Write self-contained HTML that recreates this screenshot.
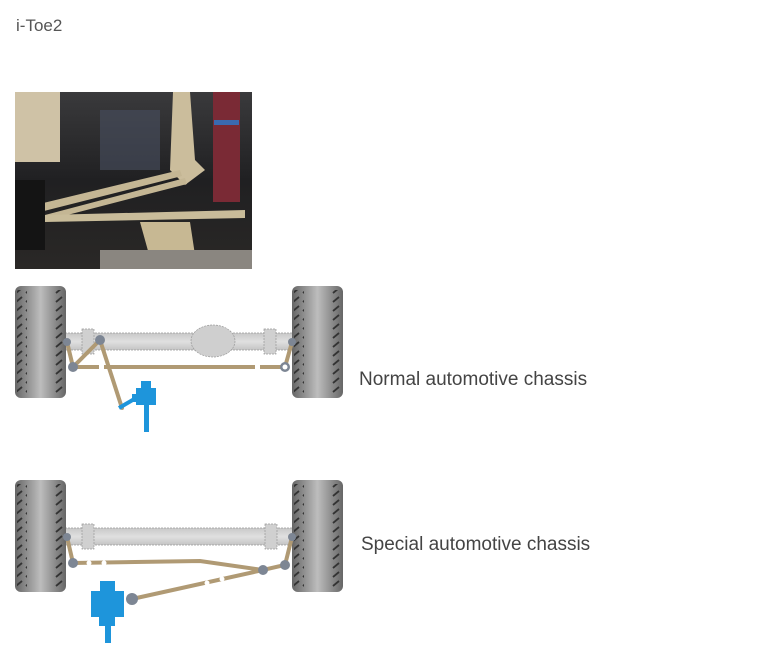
<!DOCTYPE html>
<html><head><meta charset="utf-8"><style>
html,body{margin:0;padding:0;background:#fff;width:768px;height:645px;overflow:hidden}
body{position:relative;font-family:"Liberation Sans",sans-serif}
.t{position:absolute;color:#444;white-space:nowrap}
</style></head><body>
<div class="t" style="left:16px;top:16px;font-size:17px;color:#555">i-Toe2</div>
<div class="t" style="left:359px;top:369px;font-size:19px">Normal automotive chassis</div>
<div class="t" style="left:361px;top:534px;font-size:19px">Special automotive chassis</div>
<svg width="768" height="645" style="position:absolute;left:0;top:0">
<defs>
<linearGradient id="wh" x1="0" x2="1"><stop offset="0" stop-color="#666"/><stop offset="0.5" stop-color="#bdbdbd"/><stop offset="1" stop-color="#666"/></linearGradient>
<linearGradient id="ax" x1="0" y1="0" x2="0" y2="1"><stop offset="0" stop-color="#c8c8c8"/><stop offset="0.5" stop-color="#e0e0e0"/><stop offset="1" stop-color="#c4c4c4"/></linearGradient>
<linearGradient id="ph" x1="0" y1="0" x2="0" y2="1"><stop offset="0" stop-color="#3a3a3c"/><stop offset="0.5" stop-color="#202022"/><stop offset="1" stop-color="#2a2826"/></linearGradient>
<pattern id="tr" width="10" height="9" patternUnits="userSpaceOnUse"><path d="M1 7 L7 2" stroke="#333" stroke-width="1.8"/></pattern>
<g id="wheel"><rect x="0" y="0" width="51" height="112" rx="6" fill="url(#wh)"/>
<rect x="2" y="4" width="10" height="104" fill="url(#tr)"/><rect x="39" y="4" width="10" height="104" fill="url(#tr)"/></g>
</defs>
<rect x="15" y="92" width="237" height="177" fill="url(#ph)"/>
<rect x="15" y="92" width="45" height="70" fill="#cfc2a6"/>
<rect x="100" y="110" width="60" height="60" fill="#4a5060" opacity="0.6"/>
<rect x="213" y="92" width="27" height="110" fill="#7a2a35"/>
<rect x="214" y="120" width="25" height="5" fill="#3a6ab0"/>
<path d="M173 92 L190 92 L195 160 L205 170 L185 185 L170 170 Z" fill="#cbbd9c"/>
<path d="M35 205 L180 170 L182 176 L40 212 Z" fill="#c4b694"/>
<path d="M45 215 L185 178 L187 184 L48 220 Z" fill="#c4b694"/>
<path d="M45 215 L245 210 L245 218 L45 222 Z" fill="#c9bc9a"/>
<path d="M140 222 L190 222 L195 255 L150 258 Z" fill="#c7b893"/>
<rect x="100" y="250" width="152" height="19" fill="#8a8680"/>
<rect x="15" y="180" width="30" height="70" fill="#141414"/>
<rect x="65" y="333" width="228" height="17" fill="url(#ax)" stroke="#999" stroke-dasharray="2,1" stroke-width="0.7"/>
<ellipse cx="213" cy="341" rx="22" ry="16" fill="#cfcfcf" stroke="#999" stroke-dasharray="2,1" stroke-width="0.7"/>
<rect x="82" y="329" width="12" height="25" fill="#d0d0d0" stroke="#999" stroke-dasharray="2,1" stroke-width="0.7"/>
<rect x="264" y="329" width="12" height="25" fill="#d0d0d0" stroke="#999" stroke-dasharray="2,1" stroke-width="0.7"/>
<use href="#wheel" x="15" y="286"/><use href="#wheel" x="292" y="286"/>
<g stroke="#b09a74" stroke-width="4" fill="none" stroke-linecap="round">
<path d="M67 342 L73 367 L100 340 L122 408"/><path d="M73 367 L285 367 L292 342"/></g>
<path d="M119 408 L136 398" stroke="#1e95db" stroke-width="4"/>
<rect x="141" y="381" width="10" height="8" fill="#1e95db"/><rect x="136" y="388" width="20" height="17" fill="#1e95db"/>
<rect x="132" y="394" width="6" height="8" fill="#1e95db"/><rect x="144" y="405" width="5" height="27" fill="#1e95db"/>
<g fill="#7d8694"><circle cx="73" cy="367" r="5"/><circle cx="100" cy="340" r="5"/><circle cx="67" cy="342" r="4"/><circle cx="292" cy="342" r="4"/><circle cx="285" cy="367" r="5"/></g>
<circle cx="285" cy="367" r="2.5" fill="#fff"/>
<rect x="99" y="363" width="5" height="8" rx="2" fill="#fff"/><rect x="255" y="363" width="5" height="8" rx="2" fill="#fff"/>
<rect x="65" y="528" width="228" height="17" fill="url(#ax)" stroke="#999" stroke-dasharray="2,1" stroke-width="0.7"/>
<rect x="82" y="524" width="12" height="25" fill="#d0d0d0" stroke="#999" stroke-dasharray="2,1" stroke-width="0.7"/>
<rect x="265" y="524" width="12" height="25" fill="#d0d0d0" stroke="#999" stroke-dasharray="2,1" stroke-width="0.7"/>
<use href="#wheel" x="15" y="480"/><use href="#wheel" x="292" y="480"/>
<g stroke="#b09a74" stroke-width="4" fill="none" stroke-linecap="round">
<path d="M67 537 L73 563 L200 561 L263 570 L285 565 L292 537"/><path d="M263 570 L132 599"/></g>
<rect x="100" y="581" width="15" height="11" fill="#1e95db"/><rect x="91" y="591" width="33" height="26" fill="#1e95db"/>
<rect x="99" y="617" width="16" height="9" fill="#1e95db"/><rect x="105" y="626" width="6" height="17" fill="#1e95db"/>
<g fill="#7d8694"><circle cx="73" cy="563" r="5"/><circle cx="67" cy="537" r="4"/><circle cx="292" cy="537" r="4"/><circle cx="263" cy="570" r="5"/><circle cx="285" cy="565" r="5"/><circle cx="132" cy="599" r="6"/></g>
<g fill="#fff"><circle cx="89" cy="563" r="2.5"/><circle cx="104" cy="563" r="2.5"/><circle cx="207" cy="583" r="2.5"/><circle cx="222" cy="579" r="2.5"/></g>
</svg>
</body></html>
